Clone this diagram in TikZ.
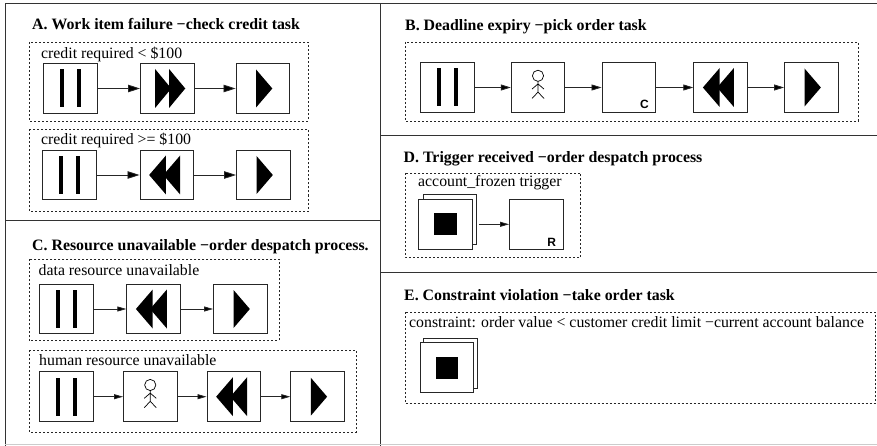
\documentclass[tikz,border=0pt]{standalone}
\usepackage{fontspec}
\setmainfont{Liberation Serif}
\setsansfont{Liberation Sans}
\usetikzlibrary{arrows.meta}
\tikzset{
  x=1pt,y=-1pt,
  panelline/.style={draw=black!80,line width=0.9pt},
  groupbox/.style={draw=black!85,line width=0.8pt,dash pattern=on 2pt off 2pt},
  taskbox/.style={draw=black!85,fill=white,line width=0.9pt,rectangle,inner sep=0pt,minimum width=53.5pt,minimum height=49.8pt},
  flow/.style={draw=black!85,line width=0.8pt,-{Triangle[length=12pt,width=7.5pt,fill=black]}},
  flowmid/.style={draw=black!85,line width=0.8pt,-{Triangle[length=10pt,width=6pt,fill=black]}},
  flowsmall/.style={draw=black!85,line width=0.8pt,-{Triangle[length=9pt,width=5pt,fill=black]}},
  headtext/.style={anchor=base west,inner sep=0pt,font=\fontsize{15.85}{18}\selectfont\bfseries},
  grouptext/.style={anchor=base west,inner sep=0pt,font=\fontsize{15.8}{18}\selectfont},
  cornertext/.style={inner sep=0pt,font=\fontsize{12}{14}\selectfont\sffamily\bfseries},
  pics/pausesign/.style={code={
    \fill[black] (-10.4,-19) rectangle (-6.7,19);
    \fill[black] (6.6,-19) rectangle (10.3,19);}},
  pics/fwdsign/.style={code={
    \fill[black] (-12.2,-19.5) -- (4,0) -- (-12.2,19.5) -- cycle;
    \fill[black] (1.8,-19.5) -- (18,0) -- (1.8,19.5) -- cycle;}},
  pics/rwdsign/.style={code={
    \fill[black] (-17.6,0) -- (-0.8,-19.5) -- (-0.8,19.5) -- cycle;
    \fill[black] (-3.4,0) -- (13.4,-19.5) -- (13.4,19.5) -- cycle;}},
  pics/playsign/.style={code={
    \fill[black] (-6.7,-19) -- (9.6,0) -- (-6.7,19) -- cycle;}},
  pics/stopsign/.style={code={
    \fill[black] (-11.2,-11.2) rectangle (11.2,11.2);}},
  pics/personsign/.style={code={
    \draw[black,line width=0.7pt] (0,-11.7) circle (5.6);
    \draw[black,line width=0.7pt] (0,-6.1) -- (0,4.6) (-6,1.6) -- (0,-3.6) -- (6,1.6) (-6,11) -- (0,4.6) -- (6,11);}},
}
\begin{document}
\begin{tikzpicture}
\useasboundingbox (0,0) rectangle (877,446);
% panel frame
\draw[panelline] (5,446) -- (5,3) -- (877,3);
\draw[panelline] (5,220) -- (380,220);
\draw[panelline] (380,3) -- (380,446);
\draw[panelline] (380,135) -- (877,135);
\draw[panelline] (380,272.5) -- (877,272.5);
\draw[draw=black!20,line width=0.8pt] (5,444.5) -- (877,444.5);

% A
\node[headtext] (headA) at (32,29.5) {A. Work item failure −check credit task};
\draw[groupbox] (29,42) rectangle (308,121);
\node[grouptext] (labA1) at (41,58.5) {credit required < \$100};
\node[taskbox] (a1) at (70.25,88.5) {};
\node[taskbox] (a2) at (167.25,88.5) {};
\node[taskbox] (a3) at (262.75,88.5) {};
\pic at (a1.center) {pausesign};
\pic at (a2.center) {fwdsign};
\pic at (a3.center) {playsign};
\draw[flow] (a1) -- (a2);
\draw[flow] (a2) -- (a3);
\draw[groupbox] (29,129.5) rectangle (308,211.5);
\node[grouptext] (labA2) at (41,144.5) {credit required >= \$100};
\node[taskbox] (a4) at (69.25,175) {};
\node[taskbox] (a5) at (166.75,175) {};
\node[taskbox] (a6) at (263.25,175) {};
\pic at (a4.center) {pausesign};
\pic at (a5.center) {rwdsign};
\pic at (a6.center) {playsign};
\draw[flow] (a4) -- (a5);
\draw[flow] (a5) -- (a6);

% C
\node[headtext] (headC) at (32,250.5) {C. Resource unavailable −order despatch process.};
\draw[groupbox] (29,259) rectangle (279,340.7);
\node[grouptext] (labC1) at (38.5,275.5) {data resource unavailable};
\node[taskbox] (c1) at (66.25,309) {};
\node[taskbox] (c2) at (153.5,309) {};
\node[taskbox] (c3) at (240.25,309) {};
\pic at (c1.center) {pausesign};
\pic at (c2.center) {rwdsign};
\pic at (c3.center) {playsign};
\draw[flowsmall] (c1) -- (c2);
\draw[flowsmall] (c2) -- (c3);
\draw[groupbox] (29,350) rectangle (356,432);
\node[grouptext] (labC2) at (39,365.5) {human resource unavailable};
\node[taskbox] (c4) at (66.25,396.7) {};
\node[taskbox] (c5) at (150.25,396.7) {};
\node[taskbox] (c6) at (233.75,396.7) {};
\node[taskbox] (c7) at (317.5,396.7) {};
\pic at (c4.center) {pausesign};
\pic at (c5.center) {personsign};
\pic at (c6.center) {rwdsign};
\pic at (c7.center) {playsign};
\draw[flowsmall] (c4) -- (c5);
\draw[flowsmall] (c5) -- (c6);
\draw[flowsmall] (c6) -- (c7);

% B
\node[headtext] (headB) at (405,30.5) {B. Deadline expiry −pick order task};
\draw[groupbox] (405,42) rectangle (858,121);
\node[taskbox] (b1) at (447.25,87.5) {};
\node[taskbox] (b2) at (538,87.5) {};
\node[taskbox] (b3) at (628.75,87.5) {};
\node[taskbox] (b4) at (720.5,87.5) {};
\node[taskbox] (b5) at (811.25,87.5) {};
\pic at (b1.center) {pausesign};
\pic at (b2.center) {personsign};
\node[cornertext] (cornerC) at (644.5,104) {C};
\pic at (b4.center) {rwdsign};
\pic at (b5.center) {playsign};
\draw[flowmid] (b1) -- (b2);
\draw[flowmid] (b2) -- (b3);
\draw[flowmid] (b3) -- (b4);
\draw[flowmid] (b4) -- (b5);

% D
\node[headtext] (headD) at (403.5,162.5) {D. Trigger received −order despatch process};
\draw[groupbox] (405,173) rectangle (580.5,257);
\node[grouptext] (labD) at (418,187) {account\_frozen trigger};
\node[taskbox] (dback) at (450,219.2) {};
\node[taskbox] (dfront) at (445.5,224.3) {};
\pic at (dfront.center) {stopsign};
\node[taskbox] (d2) at (536.25,224.3) {};
\node[cornertext] (cornerR) at (551.7,242) {R};
\draw[flowsmall,shorten <=2pt] (dback.east |- d2.center) -- (d2.west);

% E
\node[headtext] (headE) at (404,300.5) {E. Constraint violation −take order task};
\draw[groupbox] (405,312.3) rectangle (875,403.7);
\node[grouptext] (labE) at (409,327.5) {constraint: order value < customer credit limit −current account balance};
\node[taskbox] (eback) at (450.6,363.2) {};
\node[taskbox] (efront) at (446.75,367.8) {};
\pic at (efront.center) {stopsign};
\end{tikzpicture}
\end{document}
